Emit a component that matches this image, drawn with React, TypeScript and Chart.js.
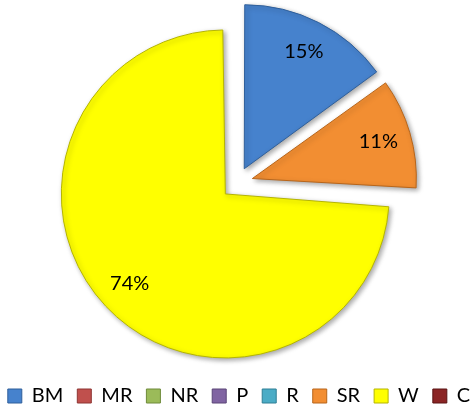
import React, { useEffect, useRef } from "react";
import { Chart, registerables } from "chart.js";

Chart.register(...registerables);

// ---- data ----
const categories: string[] = ["BM", "MR", "NR", "P", "R", "SR", "W", "C"];
const shares: number[] = [15, 0, 0, 0, 0, 11, 74, 0];

// ---- styles ----
const sliceColors: string[] = ["#4682CD", "#C0504D", "#9BBB59", "#8064A2", "#4BACC6", "#F28E32", "#FFFF00", "#8B2525"];
const sliceBorders: string[] = ["#2F5F9A", "#8E3533", "#6E8A3A", "#5A4577", "#2F7F95", "#B8651A", "#B5B500", "#5A1414"];
const FONT = "Lato, 'Open Sans', sans-serif";
const RADIUS = 164;
const EXPLODE = 16; // px each slice is pulled out
const CENTER_X = 237;
const CENTER_Y = 183;
const LEGEND_PAD = 14;
const LEGEND_FONT = 20;
const LEGEND_MID_Y = 396;
const LABEL_RATIO = 0.8;

const piePlugin = {
  id: "pieExtras",
  afterLayout(chart: any) {
    const a = chart.chartArea;
    a.left = CENTER_X - RADIUS;
    a.right = CENTER_X + RADIUS;
    a.top = CENTER_Y - RADIUS;
    a.bottom = CENTER_Y + RADIUS;
    a.width = 2 * RADIUS;
    a.height = 2 * RADIUS;
    const lg = chart.legend;
    if (lg) {
      const itemH = Math.max(LEGEND_FONT, 14);
      const cur = lg.top + LEGEND_PAD + itemH / 2;
      const dy = LEGEND_MID_Y - cur;
      lg.top += dy;
      lg.bottom += dy;
    }
  },
  beforeDatasetsDraw(chart: any) {
    const meta = chart.getDatasetMeta(0);
    meta.data.forEach((arc: any) => {
      const circ = arc.endAngle - arc.startAngle;
      const fix = 1 - Math.sin(Math.min(Math.PI, circ || 0));
      arc.outerRadius = RADIUS - EXPLODE * fix;
    });
    const ctx = chart.ctx;
    ctx.save();
    ctx.shadowColor = "rgba(0,0,0,0.35)";
    ctx.shadowBlur = 5;
    ctx.shadowOffsetX = 2;
    ctx.shadowOffsetY = 2;
  },
  afterDatasetsDraw(chart: any) {
    const ctx = chart.ctx;
    ctx.restore();
    const meta = chart.getDatasetMeta(0);
    const data = chart.data.datasets[0].data as number[];
    const total = data.reduce((s, v) => s + v, 0);
    ctx.save();
    ctx.font = `20px ${FONT}`;
    ctx.fillStyle = "#000";
    ctx.textAlign = "center";
    ctx.textBaseline = "middle";
    meta.data.forEach((arc: any, i: number) => {
      const v = data[i];
      if (!v) return;
      const mid = (arc.startAngle + arc.endAngle) / 2;
      const d = EXPLODE + LABEL_RATIO * RADIUS;
      const x = arc.x + Math.cos(mid) * d;
      const y = arc.y + Math.sin(mid) * d;
      ctx.fillText(Math.round((v / total) * 100) + "%", x, y);
    });
    ctx.restore();
  },
};

export default function App() {
  const ref = useRef<HTMLCanvasElement | null>(null);
  useEffect(() => {
    if (!ref.current) return;
    const chart = new Chart(ref.current, {
      type: "pie",
      data: {
        labels: categories,
        datasets: [
          {
            data: shares,
            backgroundColor: sliceColors,
            borderColor: sliceBorders,
            borderWidth: 1,
            offset: EXPLODE * 4,
            hoverOffset: EXPLODE * 4,
          },
        ],
      },
      options: {
        responsive: false,
        animation: false,
        radius: RADIUS,
        layout: { padding: { left: -18, right: -23, top: 0, bottom: 0 } },
        plugins: {
          legend: {
            position: "bottom",
            labels: {
              boxWidth: 14,
              boxHeight: 14,
              padding: LEGEND_PAD,
              color: "#000",
              font: { family: FONT, size: LEGEND_FONT },
            },
          },
          tooltip: { enabled: false },
        },
      } as any,
      plugins: [piePlugin],
    });
    return () => chart.destroy();
  }, []);
  return (
    <div style={{ position: "fixed", left: 0, top: 0, width: 473, height: 408, background: "#fff" }}>
      <canvas ref={ref} width={473} height={408} style={{ display: "block" }} />
    </div>
  );
}
